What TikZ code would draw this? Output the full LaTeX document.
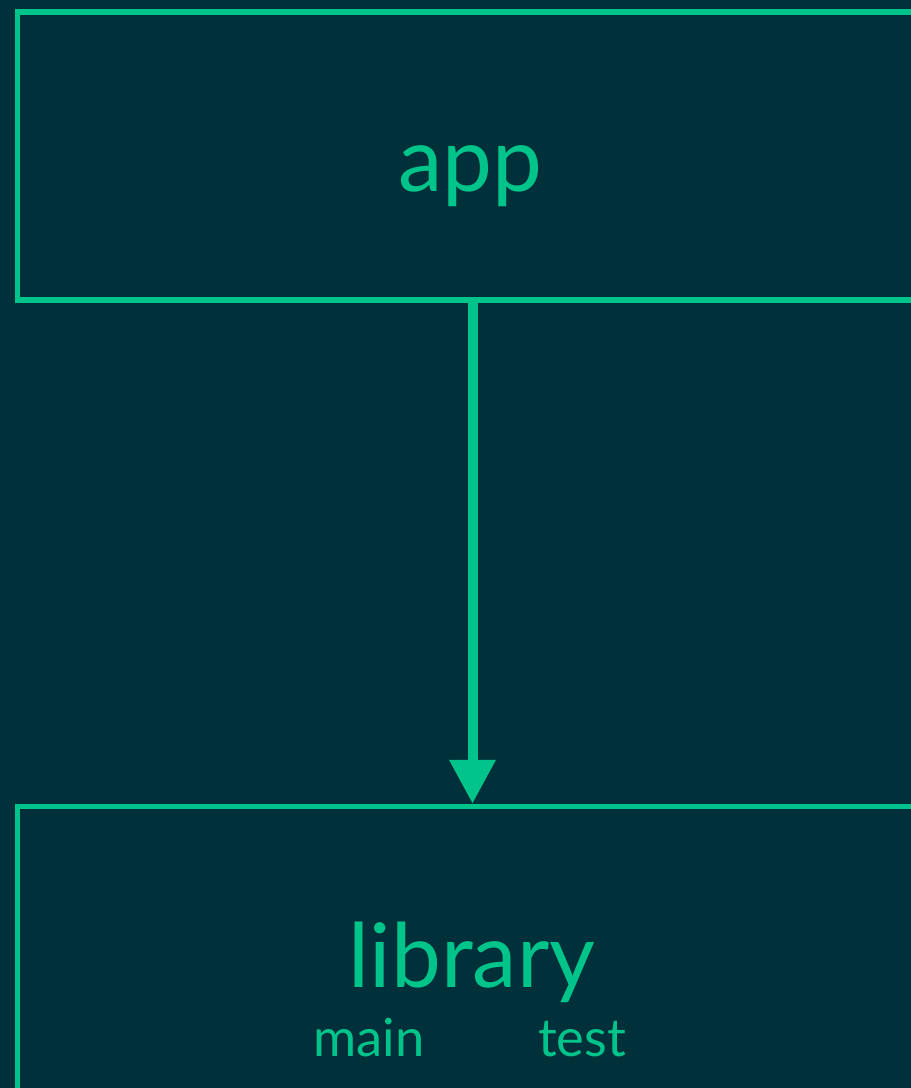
\documentclass[tikz,border=0pt]{standalone}
\usepackage{fontspec}
\setmainfont{Lato}
\usetikzlibrary{arrows.meta}
\definecolor{bgteal}{RGB}{0,48,58}
\definecolor{mint}{RGB}{0,196,137}
\tikzset{
  modbox/.style={draw=mint, line width=5.5pt, rectangle, inner sep=0pt,
                 minimum width=910pt},
  bigtext/.style={anchor=base, text=mint, inner sep=0pt,
                  font=\fontsize{89}{94}\selectfont},
  smalltext/.style={anchor=base, text=mint, inner sep=0pt,
                    font=\fontsize{52.5}{58}\selectfont},
  deparrow/.style={draw=mint, line width=10pt,
                   -{Triangle[length=44pt, width=44pt]}}
}
\begin{document}
\begin{tikzpicture}[x=1pt,y=-1pt]
  \useasboundingbox (0,0) rectangle (911,1088);
  \fill[bgteal] (0,0) rectangle (911,1088);
  \clip (0,0) rectangle (911,1088);
  % module boxes
  \node[modbox, minimum height=288pt] (app) at (472.5,156) {};
  \node[modbox, minimum height=400pt] (lib) at (472.5,1006.5) {};
  % labels
  \node[bigtext] (applabel) at (470,191) {app};
  \node[bigtext] (liblabel) at (472,987) {library};
  \node[smalltext] (mainlabel) at (369,1056) {main};
  \node[smalltext] (testlabel) at (582,1056) {test};
  % dependency
  \draw[deparrow] (app.south) -- (lib.north);
\end{tikzpicture}
\end{document}
